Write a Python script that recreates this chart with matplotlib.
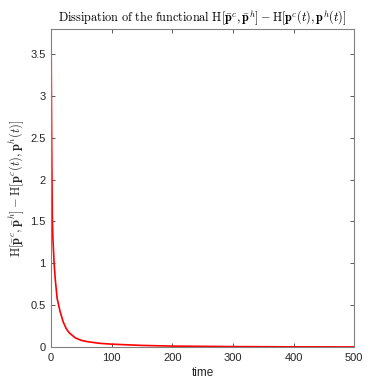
import matplotlib
matplotlib.use('Agg')
import matplotlib.pyplot as plt
import numpy as np

# time samples and functional values
t = [0, 0.5, 1, 2, 3, 5, 7, 10, 15, 20, 25, 30, 40, 50, 60, 80, 100, 150, 200, 300, 400, 500]
dissipation = [3.7, 3.0, 2.4, 1.55, 1.3, 1.0, 0.8, 0.58, 0.42, 0.3, 0.22, 0.17, 0.11,
               0.08, 0.065, 0.045, 0.035, 0.02, 0.012, 0.006, 0.003, 0.002]

xticks = [0, 100, 200, 300, 400, 500]
yticks = [0, 0.5, 1, 1.5, 2, 2.5, 3, 3.5]
ytick_labels = ['0', '0.5', '1', '1.5', '2', '2.5', '3', '3.5']

plt.rcParams['mathtext.fontset'] = 'cm'
plt.rcParams['font.family'] = ['Liberation Sans', 'DejaVu Sans']

fig = plt.figure(figsize=(3.9, 3.9), dpi=100)
ax = fig.add_axes([0.131, 0.110, 0.777, 0.816])

ax.plot(t, dissipation, color='#ff0000', linewidth=1.2)

ax.set_xlim(0, 500)
ax.set_ylim(0, 3.8)
ax.set_xticks(xticks)
ax.set_yticks(yticks)
ax.set_yticklabels(ytick_labels)

gray = '#262626'
for s in ax.spines.values():
    s.set_color('#808080')
    s.set_linewidth(0.8)
ax.tick_params(direction='in', top=True, right=True, length=3, width=0.6,
               color='#404040', labelsize=8, labelcolor=gray, pad=4)

ax.set_xlabel('time', fontsize=8.5, color=gray, labelpad=3)
ax.set_ylabel(r'$\mathrm{H}[\bar{\mathbf{p}}^c,\bar{\mathbf{p}}^h] - \mathrm{H}[\mathbf{p}^c(t),\mathbf{p}^h(t)]$',
              fontsize=9, color=gray, labelpad=2)
ax.set_title(r'$\mathrm{Dissipation\ of\ the\ functional\ H}[\bar{\mathbf{p}}^c,\bar{\mathbf{p}}^h] - \mathrm{H}[\mathbf{p}^c(t),\mathbf{p}^h(t)]$',
             fontsize=8.8, color='black', pad=5)

fig.savefig('out.png', dpi=100, facecolor='white')
